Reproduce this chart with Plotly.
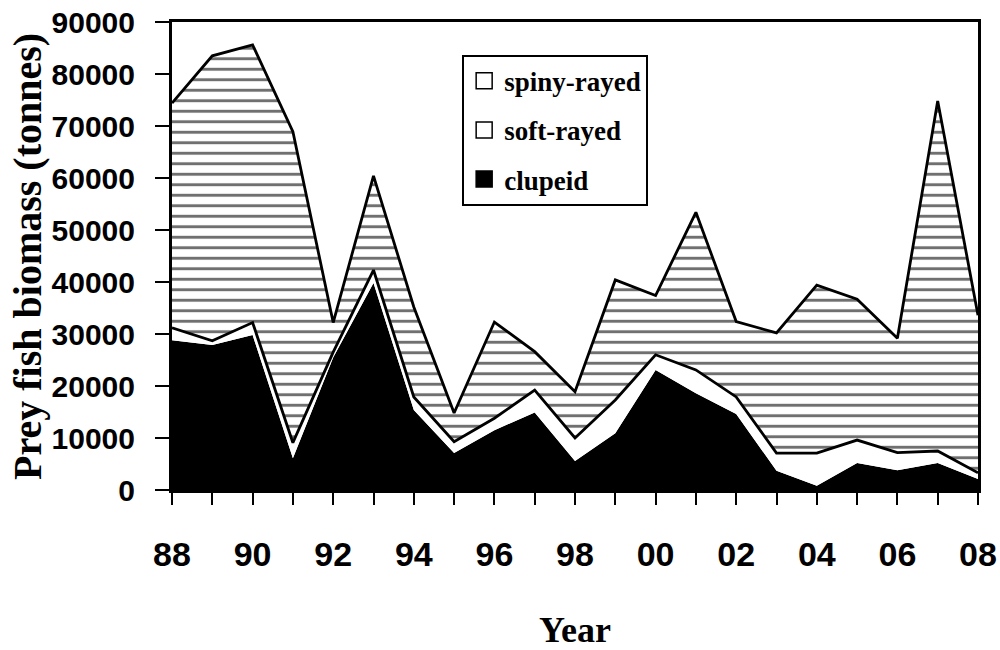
import plotly.graph_objects as go

years = list(range(1988, 2009))
tick_labels = ["88", "", "90", "", "92", "", "94", "", "96", "", "98", "",
               "00", "", "02", "", "04", "", "06", "", "08"]

clupeid = [28800, 27900, 29800, 6100, 25500, 39800, 15400, 7100, 11500, 14900, 5600,
           10900, 23100, 18600, 14600, 3700, 800, 5200, 3800, 5200, 2100]
soft_rayed = [2400, 800, 2400, 3000, 1000, 2500, 2500, 2200, 2300, 4300, 4400,
              6400, 2900, 4500, 3300, 3400, 6300, 4400, 3400, 2300, 1200]
spiny_rayed = [43200, 54800, 53400, 59800, 5700, 18100, 17300, 5500, 18500, 7400, 8900,
               23100, 11400, 30300, 14500, 23100, 32300, 27100, 22000, 67300, 30300]

SERIF = "Liberation Serif, Times New Roman, serif"
SANS = "Liberation Sans, Arial, sans-serif"

fig = go.Figure()
fig.add_trace(go.Scatter(
    x=years, y=clupeid, stackgroup="one", mode="lines",
    line=dict(color="black", width=0), fillcolor="black",
    showlegend=False, hoverinfo="skip"))
fig.add_trace(go.Scatter(
    x=years, y=soft_rayed, stackgroup="one", mode="lines",
    line=dict(color="black", width=2.8), fillcolor="white",
    showlegend=False, hoverinfo="skip"))
fig.add_trace(go.Scatter(
    x=years, y=spiny_rayed, stackgroup="one", mode="lines",
    line=dict(color="black", width=2.8), fillcolor="white",
    fillpattern=dict(shape="-", fgcolor="#333333", bgcolor="white", fgopacity=0.7,
                     size=10.5, solidity=0.28),
    showlegend=False, hoverinfo="skip"))

# legend entries
legend_items = [("spiny-rayed", "white"), ("soft-rayed", "white"), ("clupeid", "black")]
for i, (name, col) in enumerate(legend_items):
    fig.add_trace(go.Scatter(
        x=[None], y=[None], mode="markers", name=name, legendgroup=f"g{i}",
        marker=dict(symbol="square", size=16, color=col,
                    line=dict(color="black", width=1.5))))

fig.update_layout(
    width=1000, height=650,
    margin=dict(l=172, r=22, t=22, b=160),
    paper_bgcolor="white", plot_bgcolor="white",
    showlegend=True,
    legend=dict(x=0.36, y=0.93, xanchor="left", yanchor="top",
                bordercolor="black", borderwidth=2, bgcolor="white",
                font=dict(family=SERIF, size=27, color="black", weight="bold"),
                tracegroupgap=11, itemsizing="trace"),
    xaxis=dict(range=[1988, 2008], tickvals=years, ticktext=tick_labels,
               ticks="outside", ticklen=12, tickwidth=2, tickcolor="black",
               showline=True, linecolor="black", linewidth=3, mirror=True,
               showgrid=False, zeroline=False, ticklabelstandoff=20,
               ticklabeloverflow="allow", automargin=False,
               tickfont=dict(family=SANS, size=34, color="black", weight="bold")),
    yaxis=dict(range=[0, 90000], dtick=10000, tickformat="d",
               ticks="outside", ticklen=14, tickwidth=2, tickcolor="black",
               showline=True, linecolor="black", linewidth=3, mirror=True,
               showgrid=False, zeroline=False, ticklabelstandoff=14,
               automargin=False,
               tickfont=dict(family=SANS, size=30, color="black", weight="bold")),
    annotations=[
        dict(text="Prey fish biomass (tonnes)", xref="paper", yref="paper",
             x=-0.18, y=0.5, xanchor="center", yanchor="middle", textangle=-90,
             showarrow=False,
             font=dict(family=SERIF, size=40, color="black", weight="bold")),
        dict(text="Year", xref="paper", yref="paper",
             x=0.5, y=-0.3, xanchor="center", yanchor="middle",
             showarrow=False,
             font=dict(family=SERIF, size=36, color="black", weight="bold")),
    ],
)

fig.write_html("out.html")
